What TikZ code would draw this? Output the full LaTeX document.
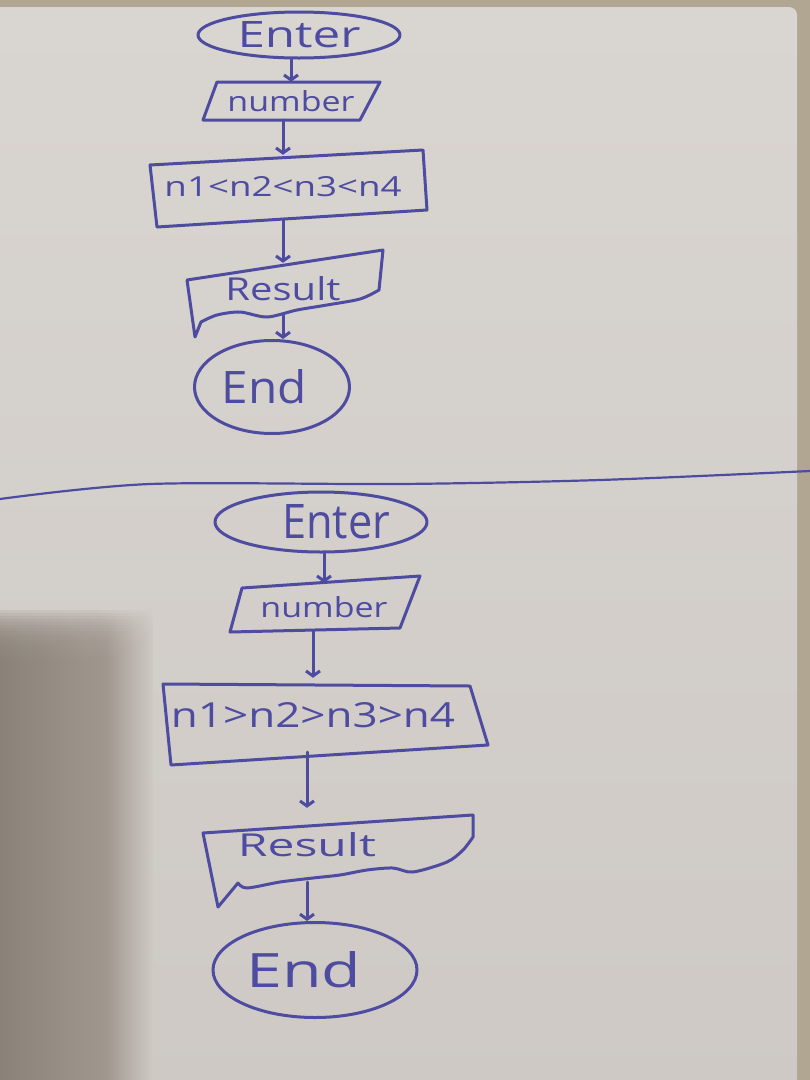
\documentclass[tikz,border=0pt]{standalone}
\usepackage{fontspec}
\usepackage{graphicx}
\setmainfont{Open Sans}
\usetikzlibrary{shapes.geometric,arrows.meta}
\definecolor{table}{RGB}{176,166,146}
\definecolor{paper}{RGB}{217,213,209}
\definecolor{paperlow}{RGB}{206,201,196}
\definecolor{shdark}{RGB}{138,130,120}
\definecolor{shmid}{RGB}{160,152,143}
\definecolor{ink}{RGB}{78,76,160}
\pgfdeclarehorizontalshading{shadowh}{100bp}{color(0bp)=(shdark); color(25bp)=(shdark); color(60bp)=(shmid); color(75bp)=(paperlow); color(100bp)=(paperlow)}
\tikzset{
  pen/.style={draw=ink, line width=3pt, line join=round, line cap=round},
  term/.style={ellipse, pen, inner sep=0pt, text=ink},
  lbl/.style={text=ink, inner sep=0pt},
  flow/.style={pen, -{Straight Barb[length=5pt,width=14pt]}}
}
\begin{document}
\begin{tikzpicture}[x=1pt,y=-1pt]
\useasboundingbox (0,0) rectangle (810,1080);
% table and paper
\fill[table] (0,0) rectangle (810,1080);
\shade[top color=paper, bottom color=paperlow, rounded corners=8pt] (-20,7) rectangle (797,1100);
% shadow at lower left, soft top edge built from layers
\foreach \k in {0,...,19}{
  \shade[shading=shadowh, opacity=0.16] (0,{610+3*\k}) rectangle (152,1080);
}
% divider line
\draw[pen, line width=2.2pt] plot[smooth] coordinates {(0,499) (150,484) (400,484) (600,480) (810,471)};

% ---------- top flowchart ----------
\node[term, minimum width=202pt, minimum height=46pt] (enter1) at (299,35) {\resizebox{123pt}{26pt}{Enter}};
\node[lbl, minimum width=177pt, minimum height=38pt] (num1) at (291,101) {\resizebox{127pt}{21pt}{number}};
\draw[pen] (217,82) -- (380,82) -- (360,120) -- (203,120) -- cycle;
\node[lbl, minimum width=270pt, minimum height=64pt] (box1) at (283,187) {\resizebox{237pt}{20pt}{n1<n2<n3<n4}};
\draw[pen] (150,165) -- (423,150) -- (427,210) -- (157,227) -- cycle;
\node[lbl, minimum width=190pt, minimum height=52pt] (res1) at (283,289) {\resizebox{115pt}{24pt}{Result}};
\draw[pen] (187,280) -- (383,250) -- plot[smooth] coordinates {(379,290) (360,299) (327,305) (297,310) (267,317) (240,312) (217,315) (201,322)} -- (195,337) -- cycle;
\node[term, minimum width=155pt, minimum height=93pt] (end1) at (272,387) {\resizebox{85pt}{34pt}{End}\hspace*{16pt}};

\draw[flow] (enter1.south -| num1.north) -- (num1.north);
\draw[flow] (num1.south -| box1.north) -- (box1.north);
\draw[flow] (box1.south -| res1.north) -- (res1.north);
\draw[flow] (res1.south) -- (res1.south |- end1.north);

% ---------- bottom flowchart ----------
\node[term, minimum width=212pt, minimum height=60pt] (enter2) at (321,522) {\hspace*{30pt}\resizebox{108pt}{34pt}{Enter}};
\node[lbl, minimum width=190pt, minimum height=48pt] (num2) at (324,607) {\resizebox{127pt}{21pt}{number}};
\draw[pen] (242,588) -- (420,576) -- (400,628) -- (230,632) -- cycle;
\node[lbl, minimum width=300pt, minimum height=74pt] (box2) at (313,715) {\resizebox{284pt}{25pt}{n1>n2>n3>n4}};
\draw[pen] (163,684) -- (470,686) -- (488,745) -- (171,765) -- cycle;
\node[lbl, minimum width=260pt, minimum height=74pt] (res2) at (307,845) {\resizebox{138pt}{24pt}{Result}};
\draw[pen] (203,833) -- (473,815) -- plot[smooth] coordinates {(473,837) (463,850) (447,862) (413,872) (393,868) (367,870) (340,875) (313,878) (280,882) (247,888) (238,883)} -- (218,907) -- cycle;
\node[term, minimum width=204pt, minimum height=95pt] (end2) at (315,970) {\resizebox{115pt}{36pt}{End}\hspace*{22pt}};

\draw[flow] (enter2.south -| num2.north) -- (num2.north);
\draw[flow] (num2.south -| box2.north) -- (box2.north);
\draw[flow] (box2.south -| res2.north) -- (res2.north);
\draw[flow] (res2.south) -- (res2.south |- end2.north);
\end{tikzpicture}
\end{document}
